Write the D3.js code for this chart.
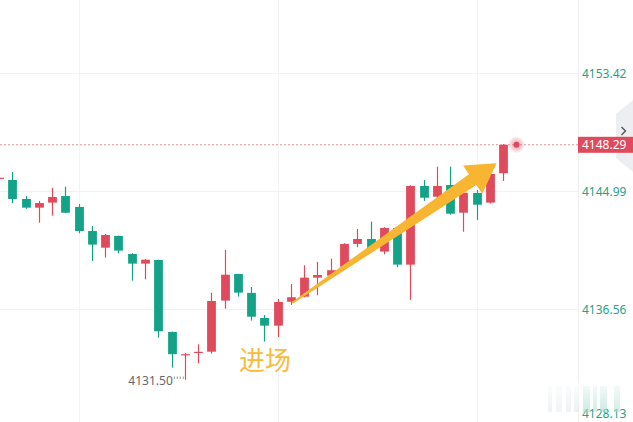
<!DOCTYPE html>
<html><head><meta charset="utf-8">
<script src="https://cdn.jsdelivr.net/npm/d3@7"></script>
<style>html,body{margin:0;padding:0;background:#fff;overflow:hidden}</style>
</head><body><svg id="c" width="633" height="422"></svg>
<script>
// ---- data ----
const openP  = [4145.90,4145.78,4144.42,4143.80,4144.16,4144.63,4143.85,4142.13,4140.94,4141.78,4140.49,4139.80,4140.06,4134.92,4133.28,4133.45,4133.51,4137.16,4139.06,4137.71,4135.92,4135.37,4137.08,4137.44,4138.80,4138.94,4139.58,4141.21,4141.56,4140.66,4142.35,4139.73,4145.35,4144.58,4145.42,4143.44,4144.85,4144.16,4146.26];
const closeP = [4145.94,4144.42,4143.80,4144.13,4144.56,4143.44,4142.13,4141.16,4141.85,4140.73,4139.80,4140.08,4134.97,4133.33,4133.33,4133.50,4137.13,4139.01,4137.73,4136.01,4135.37,4137.06,4137.40,4138.80,4138.99,4139.33,4141.21,4141.56,4140.78,4142.35,4139.73,4145.35,4144.51,4145.35,4143.37,4144.87,4144.01,4146.21,4148.29];
const highP  = [4145.97,4146.35,4144.63,4144.28,4145.21,4145.30,4144.06,4142.49,4141.92,4141.80,4140.54,4140.12,4140.08,4134.95,4133.42,4134.04,4137.71,4140.78,4139.08,4138.13,4136.13,4137.28,4138.35,4139.68,4139.92,4140.16,4141.25,4142.28,4142.80,4142.40,4142.40,4145.40,4145.78,4146.73,4146.73,4144.90,4145.06,4146.30,4148.35];
const lowP   = [4145.88,4144.13,4143.71,4142.73,4143.23,4143.40,4141.97,4139.99,4140.23,4140.54,4138.58,4138.68,4134.51,4132.37,4131.50,4132.68,4133.37,4136.58,4137.44,4135.73,4134.23,4134.56,4136.85,4137.40,4137.54,4138.90,4139.50,4140.97,4140.70,4140.47,4139.54,4137.21,4144.28,4144.50,4143.30,4142.08,4142.92,4144.10,4145.71];
const categories = d3.range(openP.length);          // candle index
const yTickValues = [4153.42, 4144.99, 4136.56, 4128.13];
const yTickLabels = ["4153.42", "4144.99", "4136.56", "4128.13"];
const xGridIndex = [6, 21, 36];
const lastPrice = 4148.29;
const lowIndex = 14, lowLabel = "4131.50";
const entryText = "进场";
const arrowFrom = [22.1, 4136.99];   // [index, price]
const arrowTo   = [37.5, 4146.97];

const W = 633, H = 422, plotRight = 578;
const RED = "#e04a5d", GREEN = "#14a388", AXIS_TXT = "#23a389", ORANGE = "#f8b532";

const svg = d3.select("#c");
const x = d3.scaleLinear().domain([0, 39]).range([-1, 516.5]);
const y = d3.scaleLinear().domain([4128.13, 4153.42]).range([427, 73]);
const bw = 8.8;

// grid
svg.append("g").selectAll("line").data(yTickValues).join("line")
  .attr("x1", 0).attr("x2", plotRight).attr("y1", d => Math.round(y(d)) + 0.5).attr("y2", d => Math.round(y(d)) + 0.5)
  .attr("stroke", "#f1f1f1").attr("stroke-width", 1);
svg.append("g").selectAll("line").data(xGridIndex).join("line")
  .attr("x1", d => Math.round(x(d)) + 0.5).attr("x2", d => Math.round(x(d)) + 0.5).attr("y1", 0).attr("y2", H)
  .attr("stroke", "#f3f3f3").attr("stroke-width", 1);
svg.append("line").attr("x1", plotRight + 0.5).attr("x2", plotRight + 0.5).attr("y1", 0).attr("y2", H)
  .attr("stroke", "#eeeeee");

// current price dashed line
svg.append("line").attr("x1", 0).attr("x2", plotRight).attr("y1", y(lastPrice)).attr("y2", y(lastPrice))
  .attr("stroke", "#e88c98").attr("stroke-width", 1).attr("stroke-dasharray", "2,2");

// candles
const cg = svg.append("g").selectAll("g").data(categories).join("g");
cg.append("line")
  .attr("x1", i => Math.round(x(i)) + 0.5).attr("x2", i => Math.round(x(i)) + 0.5)
  .attr("y1", i => y(highP[i])).attr("y2", i => y(lowP[i]))
  .attr("stroke", i => closeP[i] >= openP[i] ? RED : GREEN).attr("stroke-width", 1.2);
cg.append("rect")
  .attr("x", i => Math.round(x(i)) + 0.5 - bw / 2).attr("width", bw)
  .attr("y", i => y(Math.max(openP[i], closeP[i])))
  .attr("height", i => Math.max(1.2, Math.abs(y(openP[i]) - y(closeP[i]))))
  .attr("fill", i => closeP[i] >= openP[i] ? RED : GREEN);

// low label
svg.append("text").attr("x", x(lowIndex) - 12).attr("y", y(lowP[lowIndex]) + 5)
  .attr("text-anchor", "end").attr("font-family", "Noto Sans, Liberation Sans, sans-serif")
  .attr("font-size", 12).attr("fill", "#666").text(lowLabel);
svg.append("line").attr("x1", x(lowIndex) - 11).attr("x2", x(lowIndex) - 1)
  .attr("y1", y(lowP[lowIndex]) - 2).attr("y2", y(lowP[lowIndex]) - 2)
  .attr("stroke", "#999").attr("stroke-width", 2.5).attr("stroke-dasharray", "1,2");

// arrow
(function () {
  const x0 = x(arrowFrom[0]), y0 = y(arrowFrom[1]), x1 = x(arrowTo[0]), y1 = y(arrowTo[1]);
  const dx = x1 - x0, dy = y1 - y0, L = Math.hypot(dx, dy);
  const ux = dx / L, uy = dy / L, nx = -uy, ny = ux;
  const headL = 29, headW = 17, shaftEnd = 6.5, shaftStart = 1;
  const bx = x1 - ux * headL, by = y1 - uy * headL;
  const pts = [
    [x0 + nx * shaftStart, y0 + ny * shaftStart],
    [bx + nx * shaftEnd, by + ny * shaftEnd],
    [bx + nx * headW, by + ny * headW],
    [x1, y1],
    [bx - nx * headW, by - ny * headW],
    [bx - nx * shaftEnd, by - ny * shaftEnd],
    [x0 - nx * shaftStart, y0 - ny * shaftStart]
  ];
  svg.append("path").attr("d", d3.line()(pts) + "Z").attr("fill", ORANGE);
})();

// entry text
svg.append("text").attr("x", 239).attr("y", 369.5)
  .attr("font-family", "Noto Sans CJK SC, sans-serif").attr("font-size", 26)
  .attr("fill", "#f8bb3c").text(entryText);

// pulse dot
const defs = svg.append("defs");
const rg = defs.append("radialGradient").attr("id", "halo");
rg.append("stop").attr("offset", "0%").attr("stop-color", RED).attr("stop-opacity", 0.55);
rg.append("stop").attr("offset", "100%").attr("stop-color", RED).attr("stop-opacity", 0.08);
svg.append("circle").attr("cx", x(39)).attr("cy", y(lastPrice)).attr("r", 8).attr("fill", "url(#halo)");
svg.append("circle").attr("cx", x(39)).attr("cy", y(lastPrice)).attr("r", 3).attr("fill", RED);

// right tab
svg.append("path").attr("d", "M633,100 L616,114 L616,158 L633,172 Z").attr("fill", "#eceef2");
svg.append("path").attr("d", "M621.5,127 L625.5,131 L621.5,135").attr("fill", "none")
  .attr("stroke", "#555").attr("stroke-width", 1.4);

// y axis labels
svg.append("g").selectAll("text").data(yTickValues).join("text")
  .attr("x", 582).attr("y", d => Math.min(y(d), 413) + 4.5)
  .attr("font-family", "Noto Sans, Liberation Sans, sans-serif").attr("font-size", 12)
  .attr("fill", AXIS_TXT).text((d, i) => yTickLabels[i]);

// last price box
svg.append("rect").attr("x", 578).attr("y", y(lastPrice) - 8).attr("width", 55).attr("height", 16).attr("fill", RED);
svg.append("text").attr("x", 582).attr("y", y(lastPrice) + 4.5)
  .attr("font-family", "Noto Sans, Liberation Sans, sans-serif").attr("font-size", 12)
  .attr("fill", "#fff").text(d3.format(".2f")(lastPrice));

// faint watermark bottom-right
const wg = defs.append("linearGradient").attr("id", "wm").attr("x1", 0).attr("x2", 0).attr("y1", 0).attr("y2", 1);
wg.append("stop").attr("offset", "0%").attr("stop-color", "#ffffff").attr("stop-opacity", 0.85);
wg.append("stop").attr("offset", "100%").attr("stop-color", "#ffffff").attr("stop-opacity", 0.1);
[[548, 4, "#e6e9ee"], [556, 6, "#e9ecef"], [566, 5, "#e6e9ee"], [574, 5, "#e3e8ea"],
 [583, 7, "#a9dccf"], [593, 4, "#b5e0d5"], [600, 7, "#a9dccf"], [614, 6, "#b5e0d5"]].forEach(([bx, w, c]) => {
  svg.append("rect").attr("x", bx).attr("y", 386).attr("width", w).attr("height", 26).attr("fill", c).attr("opacity", 0.6);
});
svg.append("rect").attr("x", 545).attr("y", 383).attr("width", 80).attr("height", 26).attr("fill", "url(#wm)");
</script></body></html>
